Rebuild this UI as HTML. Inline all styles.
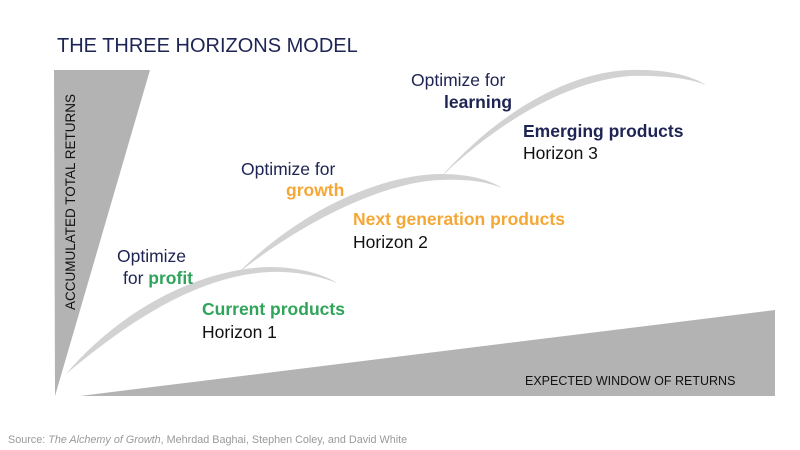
<!DOCTYPE html>
<html><head><meta charset="utf-8"><style>
body{margin:0;background:#fff;}
svg{display:block;font-family:"Liberation Sans",sans-serif;}
</style></head><body>
<svg width="800" height="450" viewBox="0 0 800 450">
<rect width="800" height="450" fill="#fff"/>
<text x="57" y="52" font-size="20" fill="#1e2453">THE THREE HORIZONS MODEL</text>
<polygon points="54,70 150,70 55,396" fill="#b3b3b3"/>
<polygon points="80,396 775,310 775,396" fill="#b3b3b3"/>
<text transform="translate(75,310) rotate(-90)" font-size="13.5" fill="#111">ACCUMULATED TOTAL RETURNS</text>
<text x="525" y="385" font-size="12.5" fill="#111">EXPECTED WINDOW OF RETURNS</text>
<g fill="#d2d2d2">
<path d="M66,374 C120,310 200,268 270,267 C300,267 325,275 337,283 C320,276 295,271 270,272 C200,275 130,320 66,374 Z"/>
<path d="M237,274 C300,210 380,175 440,174 C470,174 490,180 502,188 C485,181 465,179 440,180 C385,182 305,220 237,274 Z"/>
<path d="M440,178 C500,110 570,72 630,70 C665,69 690,75 706,85 C690,78 660,75 630,76 C575,80 505,115 440,178 Z"/>
</g>
<g font-size="17.5">
<text x="117" y="262" fill="#1e2453">Optimize</text>
<text x="123" y="284" fill="#1e2453">for <tspan fill="#2fa45a" font-weight="bold">profit</tspan></text>
<text x="202" y="315" fill="#2fa45a" font-weight="bold">Current products</text>
<text x="202" y="338" fill="#111">Horizon 1</text>
<text x="241" y="175" fill="#1e2453">Optimize for</text>
<text x="286" y="196" fill="#f5a736" font-weight="bold">growth</text>
<text x="353" y="225" fill="#f5a736" font-weight="bold">Next generation products</text>
<text x="353" y="248" fill="#111">Horizon 2</text>
<text x="411" y="86" fill="#1e2453">Optimize for</text>
<text x="444" y="108" fill="#1e2453" font-weight="bold">learning</text>
<text x="523" y="137" fill="#1e2453" font-weight="bold">Emerging products</text>
<text x="523" y="159" fill="#111">Horizon 3</text>
</g>
<text x="8" y="443" font-size="10.8" fill="#999">Source: <tspan font-style="italic">The Alchemy of Growth</tspan>, Mehrdad Baghai, Stephen Coley, and David White</text>
</svg>
</body></html>
